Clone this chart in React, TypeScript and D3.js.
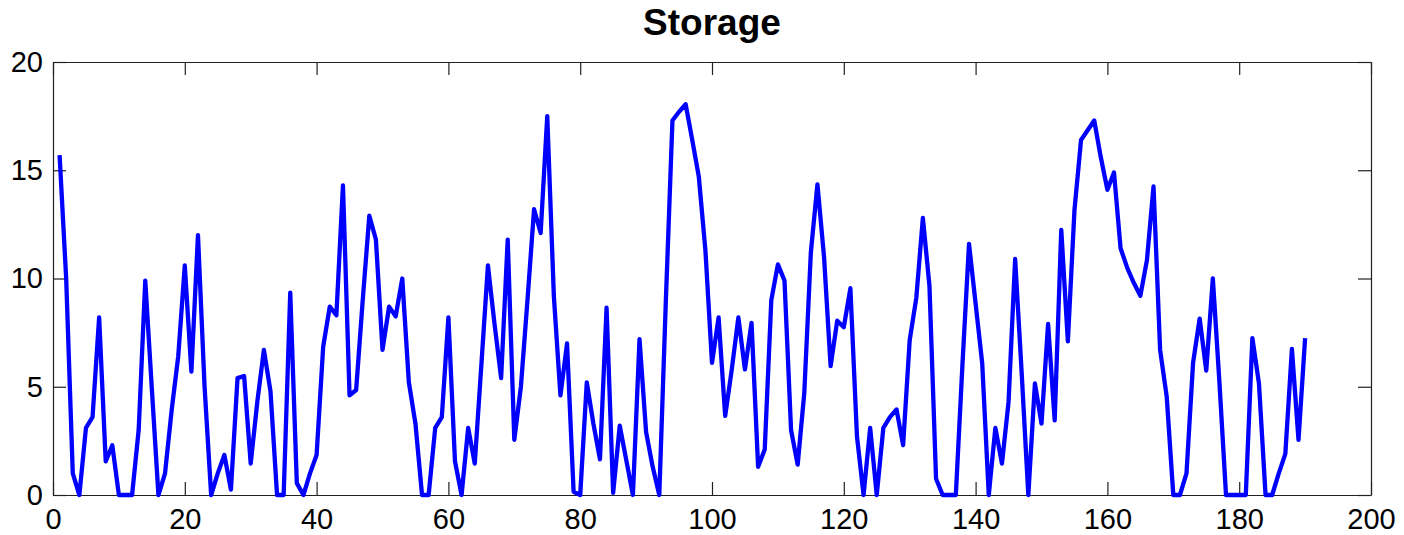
import * as d3 from 'd3';
import React, { useEffect, useRef } from 'react';

// storage value at step 1..190
const storage: number[] = [
  15.7, 10.0, 1.0, 0, 3.1, 3.6, 8.2, 1.55, 2.3, 0,
  0, 0, 3.0, 9.9, 4.9, 0, 1.0, 3.9, 6.4, 10.6,
  5.7, 12.0, 5.0, 0, 1.0, 1.85, 0.25, 5.4, 5.5, 1.45,
  4.3, 6.7, 4.8, 0, 0, 9.35, 0.55, 0, 1.0, 1.85,
  6.85, 8.7, 8.3, 14.3, 4.6, 4.85, 9.0, 12.9, 11.8, 6.7,
  8.7, 8.25, 10.0, 5.2, 3.3, 0, 0, 3.1, 3.6, 8.2,
  1.55, 0, 3.1, 1.45, 6.0, 10.6, 7.9, 5.4, 11.8, 2.55,
  5.0, 9.0, 13.2, 12.1, 17.5, 9.2, 4.6, 7.0, 0.15, 0,
  5.2, 3.3, 1.65, 8.65, 0.1, 3.2, 1.6, 0, 7.2, 2.9,
  1.3, 0, 9.0, 17.3, 17.7, 18.05, 16.4, 14.7, 11.3, 6.1,
  8.2, 3.65, 5.8, 8.2, 5.8, 7.95, 1.3, 2.1, 9.0, 10.65,
  9.9, 3.0, 1.4, 4.7, 11.2, 14.35, 11.0, 5.95, 8.05, 7.75,
  9.55, 2.7, 0, 3.1, 0, 3.1, 3.6, 3.95, 2.3, 7.15,
  9.1, 12.8, 9.65, 0.75, 0, 0, 0, 6.0, 11.6, 8.85,
  6.1, 0, 3.1, 1.45, 4.3, 10.9, 5.6, 0, 5.15, 3.3,
  7.9, 3.45, 12.25, 7.1, 13.15, 16.4, 16.85, 17.3, 15.6, 14.1,
  14.9, 11.4, 10.5, 9.8, 9.2, 10.85, 14.25, 6.7, 4.55, 0,
  0, 1.0, 6.1, 8.15, 5.75, 10.0, 5.2, 0, 0, 0,
  0, 7.25, 5.15, 0, 0, 1.0, 1.9, 6.75, 2.55, 7.25,
];

const xTicks = [0, 20, 40, 60, 80, 100, 120, 140, 160, 180, 200];
const yTicks = [0, 5, 10, 15, 20];
const title = 'Storage';

export default function App() {
  const svgRef = useRef<SVGSVGElement>(null);

  useEffect(() => {
    const W = 1404;
    const H = 535;
    const margin = { top: 62, right: 33, bottom: 40, left: 53 };
    const width = W - margin.left - margin.right;
    const height = H - margin.top - margin.bottom;
    const font = '"Liberation Sans", Arial, sans-serif';

    const svg = d3.select(svgRef.current);
    svg.selectAll('*').remove();

    const g = svg.append('g')
      .attr('transform', `translate(${margin.left},${margin.top})`);

    const x = d3.scaleLinear().domain([0, 200]).range([0, width]);
    const y = d3.scaleLinear().domain([0, 20]).range([height, 0]);

    // axes, ticks point inward like matlab
    const styleAxis = (sel: any) => {
      sel.select('.domain').attr('stroke', '#222').attr('stroke-width', 1.2);
      sel.selectAll('.tick line').attr('stroke', '#222').attr('stroke-width', 1.2);
      sel.selectAll('text')
        .attr('fill', '#000')
        .style('font-family', font)
        .style('font-size', '29px');
    };

    g.append('g')
      .attr('transform', `translate(0,${height})`)
      .call(d3.axisBottom(x).tickValues(xTicks).tickSize(-13).tickSizeOuter(0).tickPadding(13))
      .call(styleAxis);

    g.append('g')
      .call(d3.axisTop(x).tickValues(xTicks).tickSize(-13).tickSizeOuter(0).tickFormat(() => ''))
      .call(styleAxis);

    g.append('g')
      .call(d3.axisLeft(y).tickValues(yTicks).tickSize(-13).tickSizeOuter(0).tickPadding(10))
      .call(styleAxis);

    g.append('g')
      .attr('transform', `translate(${width},0)`)
      .call(d3.axisRight(y).tickValues(yTicks).tickSize(-13).tickSizeOuter(0).tickFormat(() => ''))
      .call(styleAxis);

    // line
    const line = d3.line<number>()
      .x((d, i) => x(i + 1))
      .y(d => y(d));

    g.append('path')
      .datum(storage)
      .attr('fill', 'none')
      .attr('stroke', '#0000ff')
      .attr('stroke-width', 4.3)
      .attr('stroke-linejoin', 'round')
      .attr('d', line);

    svg.append('text')
      .attr('x', margin.left + width / 2)
      .attr('y', 35)
      .attr('text-anchor', 'middle')
      .style('font-family', font)
      .style('font-weight', 'bold')
      .style('font-size', '37px')
      .text(title);
  }, []);

  return (
    <svg
      ref={svgRef}
      width={1404}
      height={535}
      style={{ position: 'absolute', left: 0, top: 0, background: '#fff' }}
    />
  );
}
